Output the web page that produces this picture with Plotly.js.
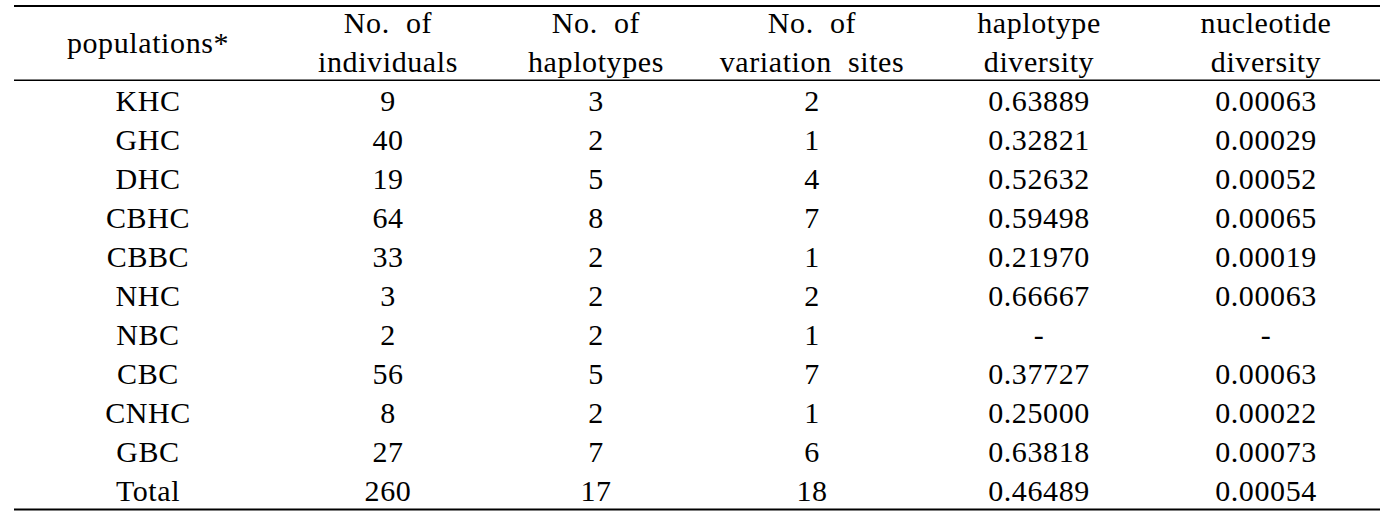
<!DOCTYPE html>
<html>
<head>
<meta charset="utf-8">
<script src="https://cdn.plot.ly/plotly-3.0.1.min.js"></script>
<style>
  html, body { margin: 0; padding: 0; background: #fff; }
  #chart { width: 1397px; height: 517px; }
  #chart .table text { letter-spacing: 0.6px; }
</style>
</head>
<body>
<div id="chart"></div>
<script>
// ---- data ----
var stubHeader = "populations*";
var headerLine1 = ["", "No.  of", "No.  of", "No.  of", "haplotype", "nucleotide"];
var headerLine2 = ["", "individuals", "haplotypes", "variation  sites", "diversity", "diversity"];
var populations = ["KHC", "GHC", "DHC", "CBHC", "CBBC", "NHC", "NBC", "CBC", "CNHC", "GBC", "Total"];
var individuals = [9, 40, 19, 64, 33, 3, 2, 56, 8, 27, 260];
var haplotypes = [3, 2, 5, 8, 2, 2, 2, 5, 2, 7, 17];
var variationSites = [2, 1, 4, 7, 1, 2, 1, 7, 1, 6, 18];
var haplotypeDiversity = [0.63889, 0.32821, 0.52632, 0.59498, 0.21970, 0.66667, null, 0.37727, 0.25000, 0.63818, 0.46489];
var nucleotideDiversity = [0.00063, 0.00029, 0.00052, 0.00065, 0.00019, 0.00063, null, 0.00063, 0.00022, 0.00073, 0.00054];

// ---- presentation ----
var W = 1397, H = 517;
var FONT = { family: "Liberation Serif, Times New Roman, serif", size: 30, color: "#000" };
var NOLINE = { width: 0, color: "rgba(0,0,0,0)" };
var NOFILL = { color: "rgba(0,0,0,0)" };
var nb = function (s) { return String(s).replace(/ /g, "\u00a0"); };
var fmt = function (v) { return v === null ? "-" : v.toFixed(5); };

var left = 14, right = 1380, rowH = 39;
var colW = [268, 212, 204, 228, 226, 228];
var tableTop = 2;
var nRows = populations.length + 1;
var tableBottom = tableTop + rowH * (nRows + 1) + 3;

var bodyCols = [
  populations,
  individuals.map(String),
  haplotypes.map(String),
  variationSites.map(String),
  haplotypeDiversity.map(fmt),
  nucleotideDiversity.map(fmt)
].map(function (col, i) { return [nb(headerLine2[i])].concat(col); });

var mainTable = {
  type: "table",
  domain: { x: [left / W, right / W], y: [1 - tableBottom / H, 1 - tableTop / H] },
  columnwidth: colW,
  header: {
    values: headerLine1.map(nb),
    align: "center",
    height: rowH,
    line: NOLINE, fill: NOFILL, font: FONT
  },
  cells: {
    values: bodyCols,
    align: "center",
    height: rowH,
    line: NOLINE, fill: NOFILL, font: FONT
  }
};

var stubTop = 22.5;
var stubTable = {
  type: "table",
  domain: { x: [left / W, (left + colW[0]) / W], y: [1 - (stubTop + rowH + 4) / H, 1 - stubTop / H] },
  header: {
    values: [nb(stubHeader)],
    align: "center",
    height: rowH,
    line: NOLINE, fill: NOFILL, font: FONT
  },
  cells: {
    values: [[]],
    height: rowH,
    line: NOLINE, fill: NOFILL, font: FONT
  }
};

var hline = function (yPx, w) {
  return {
    type: "line", xref: "paper", yref: "paper",
    x0: left / W, x1: right / W, y0: 1 - yPx / H, y1: 1 - yPx / H,
    line: { color: "#000", width: w }
  };
};

var layout = {
  width: W, height: H,
  margin: { l: 0, r: 0, t: 0, b: 0 },
  paper_bgcolor: "#fff",
  plot_bgcolor: "#fff",
  showlegend: false,
  shapes: [hline(6, 2), hline(80.3, 1.6), hline(509.5, 2)]
};

Plotly.newPlot("chart", [mainTable, stubTable], layout, { displayModeBar: false, staticPlot: true });
</script>
</body>
</html>
